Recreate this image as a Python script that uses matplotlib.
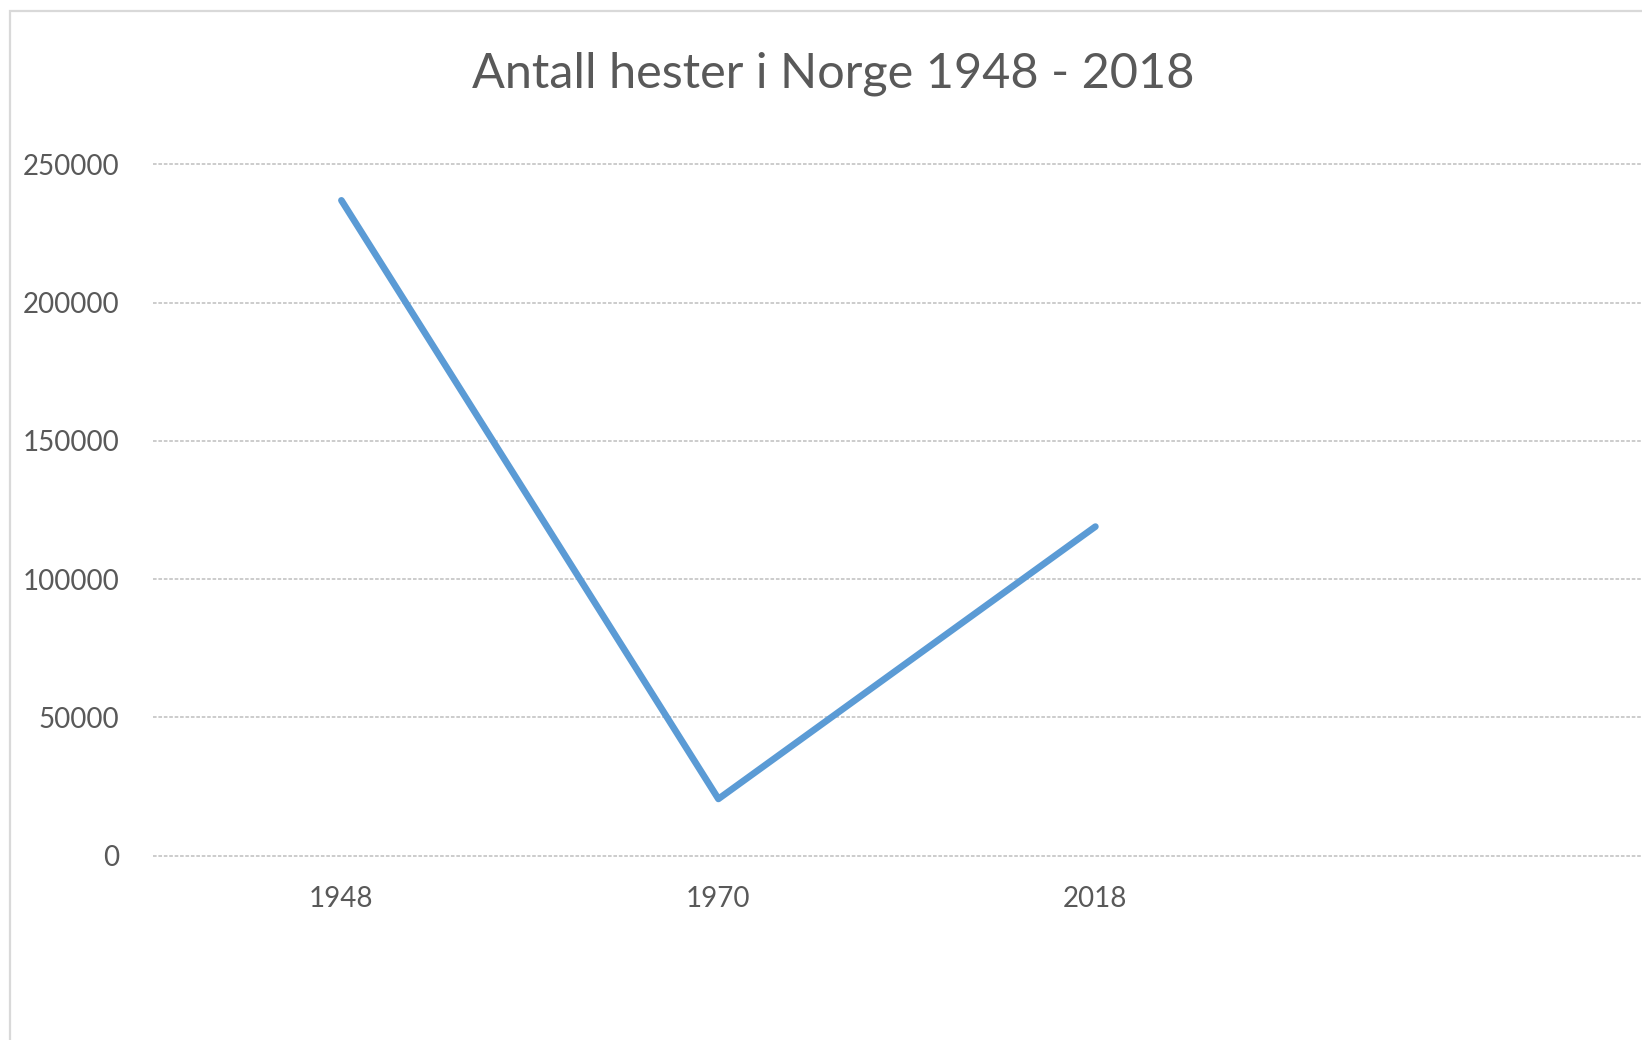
import matplotlib.pyplot as plt
from matplotlib.patches import Rectangle

years = ["1948", "1970", "2018"]
horses = [237000, 20500, 119000]
yticks = [0, 50000, 100000, 150000, 200000, 250000]

plt.rcParams["font.family"] = ["Lato", "DejaVu Sans"]

W, H = 1642, 1040
fig = plt.figure(figsize=(W / 100, H / 100), dpi=100)

# chart border (runs past the right/bottom edge like the cropped original)
fig.patches.append(Rectangle((10 / W, -0.1), 2.0, 1 - 11 / H + 0.1,
                             transform=fig.transFigure, fill=False,
                             edgecolor="#d9d9d9", linewidth=1.6))

ax = fig.add_axes([152.9 / W, 184.4 / H, 4 * 377 / W, 691.2 / H])
x = range(len(years))
ax.plot(x, horses, color="#5b9bd5", linewidth=4.8, solid_capstyle="round")

ax.set_xlim(-0.5, 3.5)
ax.set_ylim(0, 250000)
ax.set_xticks(list(x))
ax.set_xticklabels(years)
ax.set_yticks(yticks)
ax.set_yticklabels([str(v) for v in yticks])
ax.tick_params(length=0, labelsize=20, colors="#595959")
ax.tick_params(axis="y", pad=24)
ax.tick_params(axis="x", pad=22)
for s in ax.spines.values():
    s.set_visible(False)
ax.yaxis.grid(True, color="#c8c8c8", linewidth=1.3, linestyle=(0, (2, 1)))
ax.set_axisbelow(True)
for gl in ax.get_ygridlines():
    gl.set_clip_on(False)

fig.text(833 / W, 1 - 74 / H, "Antall hester i Norge 1948 - 2018",
         ha="center", va="center", fontsize=35, color="#595959")

fig.savefig("out.png", dpi=100)
